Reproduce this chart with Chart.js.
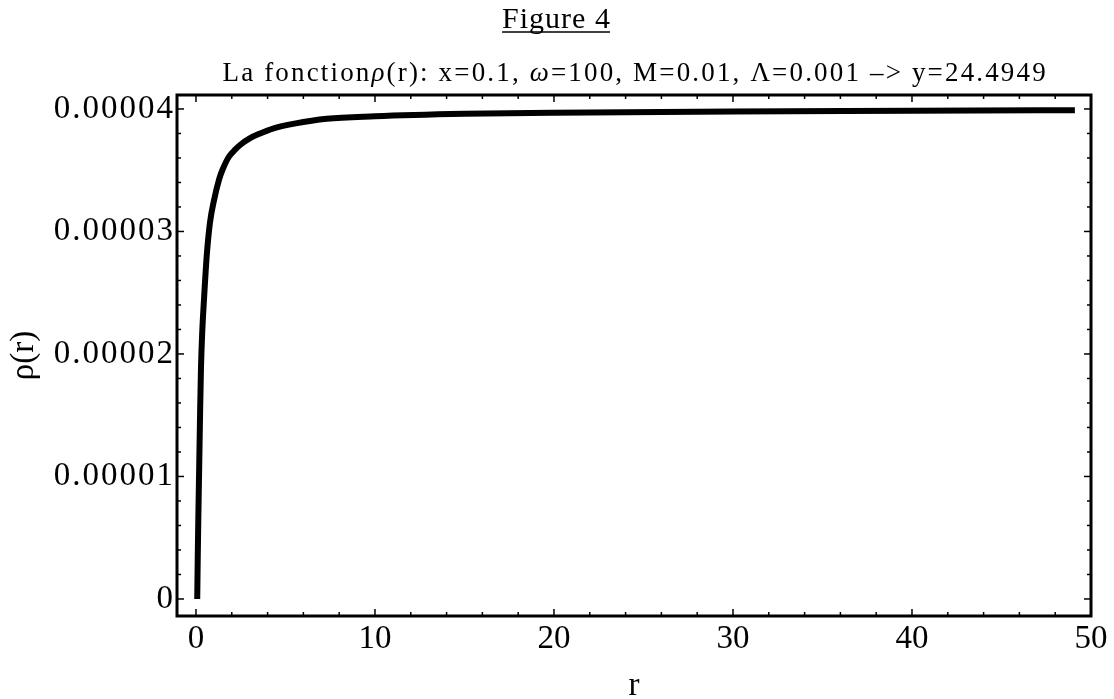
<!DOCTYPE html>
<html>
<head>
<meta charset="utf-8">
<script src="https://cdn.jsdelivr.net/npm/chart.js@4/dist/chart.umd.min.js"></script>
<style>
  html, body { margin: 0; padding: 0; background: #fff; }
  #wrap { width: 1114px; height: 699px; }
</style>
</head>
<body>
<div id="wrap"><canvas id="rhoChart" width="1114" height="699"></canvas></div>
<script>
// values (r, rho(r))
const rValues = [0.07, 0.1, 0.13, 0.18, 0.23, 0.28, 0.35, 0.45, 0.6, 0.78, 1.0, 1.3, 1.5, 1.84, 2.2, 2.5, 3.0, 3.58, 4.3, 5.5, 7.3, 10, 15, 20, 30, 40, 49.1];
const rhoValues = [0, 0.35e-5, 0.65e-5, 1.08e-5, 1.52e-5, 1.89e-5, 2.18e-5, 2.45e-5, 2.8e-5, 3.07e-5, 3.25e-5, 3.43e-5, 3.51e-5, 3.61e-5, 3.67e-5, 3.71e-5, 3.76e-5, 3.80e-5, 3.84e-5, 3.88e-5, 3.92e-5, 3.94e-5, 3.96e-5, 3.97e-5, 3.98e-5, 3.985e-5, 3.99e-5];
const xTicks = [0, 10, 20, 30, 40, 50];
const yTicks = [0, 0.00001, 0.00002, 0.00003, 0.00004];

const figureTitle = 'Figure 4';
const subtitleParts = [
    ['La fonction', false],
    ['ρ', true],
    ['(r): x=0.1, ', false],
    ['ω', true],
    ['=100, M=0.01, Λ=0.001 –> y=24.4949', false]
];

const SERIF = '"Liberation Serif", "DejaVu Serif", serif';

// y tick labels are a bit letter-spaced in the original
const spacingPlugin = {
    id: 'spacing',
    afterLayout(chart) {
        const ys = chart.scales.y;
        if (ys._spaced) return;
        const orig = ys.drawLabels;
        ys.drawLabels = function (area) {
            this.ctx.letterSpacing = '2px';
            orig.call(this, area);
            this.ctx.letterSpacing = '0px';
        };
        ys._spaced = true;
    }
};

// Mathematica-like frame with inward ticks, plus the two header lines
const framePlugin = {
    id: 'frame',
    afterDraw(chart) {
        const ctx = chart.ctx;
        const area = chart.chartArea;
        const xs = chart.scales.x;
        const ys = chart.scales.y;
        ctx.save();
        ctx.strokeStyle = '#000';

        const tick = (px, py, dx, dy) => {
            ctx.beginPath();
            ctx.moveTo(px, py);
            ctx.lineTo(px + dx, py + dy);
            ctx.stroke();
        };
        ctx.lineWidth = 1.5;
        for (let v = 0; v <= 50.001; v += 2) {
            const len = xTicks.includes(Math.round(v)) ? 7 : 4;
            const px = xs.getPixelForValue(v);
            tick(px, area.bottom, 0, -len);
            tick(px, area.top, 0, len);
        }
        for (let i = 0; i <= 20; i++) {
            const v = i * 0.000002;
            const len = i % 5 === 0 ? 7 : 4;
            const py = ys.getPixelForValue(v);
            tick(area.left, py, len, 0);
            tick(area.right, py, -len, 0);
        }

        ctx.lineWidth = 3;
        ctx.strokeRect(area.left, area.top, area.right - area.left, area.bottom - area.top);

        // header
        ctx.fillStyle = '#000';
        ctx.textBaseline = 'alphabetic';
        ctx.font = '30px ' + SERIF;
        ctx.letterSpacing = '1px';
        const tw = ctx.measureText(figureTitle).width - 1;
        const tx = 556 - tw / 2;
        ctx.fillText(figureTitle, tx, 28);
        ctx.lineWidth = 1.4;
        ctx.beginPath();
        ctx.moveTo(tx, 32);
        ctx.lineTo(tx + tw, 32);
        ctx.stroke();

        // subtitle, stretched to the width it has in the original
        const fontFor = (it) => (it ? 'italic ' : '') + '27px ' + SERIF;
        const targetWidth = 823;
        ctx.letterSpacing = '0px';
        let natural = 0, nChars = 0;
        subtitleParts.forEach(([t, it]) => {
            ctx.font = fontFor(it);
            natural += ctx.measureText(t).width;
            nChars += t.length;
        });
        const ls = Math.max(0, (targetWidth - natural) / (nChars - 1));
        ctx.letterSpacing = ls.toFixed(2) + 'px';
        let sx = (area.left + area.right) / 2 - targetWidth / 2;
        subtitleParts.forEach(([t, it]) => {
            ctx.font = fontFor(it);
            ctx.fillText(t, sx, 81);
            sx += ctx.measureText(t).width;
        });
        ctx.restore();
    }
};

const ctx = document.getElementById('rhoChart').getContext('2d');
new Chart(ctx, {
    type: 'line',
    data: {
        datasets: [{
            data: rValues.map((r, i) => ({ x: r, y: rhoValues[i] })),
            borderColor: '#000',
            borderWidth: 6,
            pointRadius: 0,
            fill: false,
            cubicInterpolationMode: 'monotone'
        }]
    },
    options: {
        responsive: false,
        devicePixelRatio: 1,
        animation: false,
        layout: {
            padding: { top: 95, right: 23, bottom: 0, left: 0 }
        },
        plugins: {
            legend: { display: false },
            tooltip: { enabled: false }
        },
        scales: {
            x: {
                type: 'linear',
                min: -1.06,
                max: 50,
                border: { display: false },
                grid: { display: false, drawTicks: false },
                ticks: {
                    stepSize: 10,
                    includeBounds: false,
                    padding: 4,
                    maxRotation: 0,
                    color: '#000',
                    font: { family: SERIF, size: 33 }
                },
                title: {
                    display: true,
                    text: 'r',
                    color: '#000',
                    font: { family: SERIF, size: 33, lineHeight: 1 },
                    padding: { top: 0, bottom: -4 }
                },
                afterFit(scale) { scale.height = 83; }
            },
            y: {
                type: 'linear',
                min: -0.00000139,
                max: 0.00004114,
                border: { display: false },
                grid: { display: false, drawTicks: false },
                ticks: {
                    stepSize: 0.00001,
                    includeBounds: false,
                    padding: 2,
                    color: '#000',
                    font: { family: SERIF, size: 33 },
                    callback: (v) => Math.abs(v) < 1e-12 ? '0' : v.toFixed(5)
                },
                title: {
                    display: true,
                    text: 'ρ(r)',
                    color: '#000',
                    font: { family: SERIF, size: 33, lineHeight: 1 },
                    padding: { top: 8, bottom: 0 }
                },
                afterFit(scale) { scale.width = 177; }
            }
        }
    },
    plugins: [spacingPlugin, framePlugin]
});
</script>
</body>
</html>
